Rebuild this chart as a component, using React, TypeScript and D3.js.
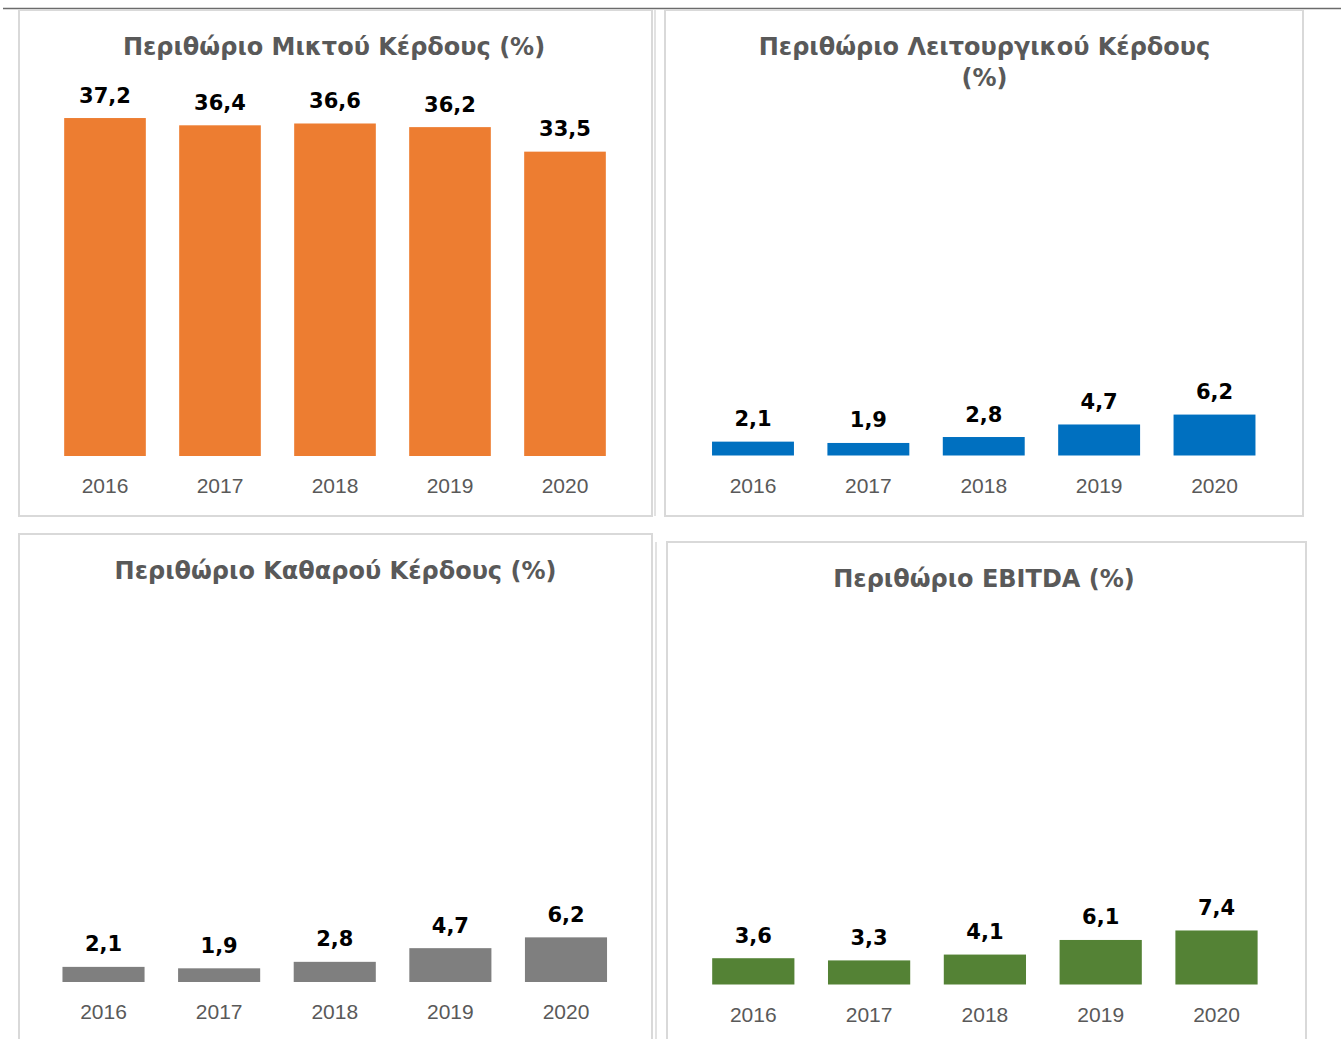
import React, {useEffect, useRef} from "react";
import * as d3 from "d3";

// years on the x axis
const years = ["2016", "2017", "2018", "2019", "2020"];

// margins in %
const grossMargin = [37.2, 36.4, 36.6, 36.2, 33.5];
const operatingMargin = [2.1, 1.9, 2.8, 4.7, 6.2];
const netMargin = [2.1, 1.9, 2.8, 4.7, 6.2];
const ebitdaMargin = [3.6, 3.3, 4.1, 6.1, 7.4];

const titleGross = ["Περιθώριο Μικτού Κέρδους (%)"];
const titleOperating = ["Περιθώριο Λειτουργικού Κέρδους", "(%)"];
const titleNet = ["Περιθώριο Καθαρού Κέρδους (%)"];
const titleEbitda = ["Περιθώριο EBITDA (%)"];

const W = 1341;
const H = 1039;

// greek style numbers: 37,2
const locale = d3.formatLocale({decimal: ",", thousands: ".", grouping: [3], currency: ["", "€"]});
const fmt = locale.format(".1f");

const panels = [
    {
        values: grossMargin, title: titleGross, color: "#ED7D31",
        box: [19, 10, 633, 506], extraLine: null,
        xRange: [47.5, 622.5], yBase: 456, yMax: 40, yTop: 92.6,
        titleX: 334, titleY: 55,
    },
    {
        values: operatingMargin, title: titleOperating, color: "#0070C0",
        box: [665, 10, 638, 506], extraLine: 655,
        xRange: [695.3, 1272.2], yBase: 455.5, yMax: 50, yTop: 125.5,
        titleX: 984.5, titleY: 55,
    },
    {
        values: netMargin, title: titleNet, color: "#7F7F7F",
        box: [19, 534, 633, 530], extraLine: null,
        xRange: [45.7, 623.8], yBase: 982, yMax: 50, yTop: 622,
        titleX: 335.5, titleY: 579,
    },
    {
        values: ebitdaMargin, title: titleEbitda, color: "#548235",
        box: [667, 542, 639, 530], extraLine: 656,
        xRange: [695.4, 1274.4], yBase: 984.5, yMax: 50, yTop: 619.5,
        titleX: 984, titleY: 587,
    },
];

const App = () => {
    const svgRef = useRef(null);

    useEffect(() => {
        document.body.style.margin = "0";
        const svg = d3.select(svgRef.current);
        svg.selectAll("*").remove();

        svg.append("rect").attr("width", W).attr("height", H).attr("fill", "#fff");

        // dark rule along the top
        svg.append("line")
            .attr("x1", 3).attr("x2", W)
            .attr("y1", 8.5).attr("y2", 8.5)
            .attr("stroke", "#6b6b6b")
            .attr("stroke-width", 1.5);

        panels.forEach((p) => {
            const g = svg.append("g");
            const [bx, by, bw, bh] = p.box;

            if (p.extraLine !== null) {
                g.append("line")
                    .attr("x1", p.extraLine).attr("x2", p.extraLine)
                    .attr("y1", by).attr("y2", Math.min(by + bh, H))
                    .attr("stroke", "#d9d9d9").attr("stroke-width", 1.5);
            }

            g.append("rect")
                .attr("x", bx).attr("y", by)
                .attr("width", bw).attr("height", bh)
                .attr("fill", "#fff")
                .attr("stroke", "#d9d9d9")
                .attr("stroke-width", 2);

            const x = d3.scaleBand<string>()
                .domain(years)
                .range(p.xRange as [number, number])
                .paddingInner(0.29)
                .paddingOuter(0.145);

            const y = d3.scaleLinear()
                .domain([0, p.yMax])
                .range([p.yBase, p.yTop]);

            // title
            const t = g.append("text")
                .attr("x", p.titleX)
                .attr("y", p.titleY)
                .attr("text-anchor", "middle")
                .attr("font-family", "'DejaVu Sans', sans-serif")
                .attr("font-weight", "bold")
                .attr("font-size", 24)
                .attr("fill", "#595959");
            p.title.forEach((line, i) => {
                t.append("tspan")
                    .attr("x", p.titleX)
                    .attr("dy", i === 0 ? 0 : 31)
                    .text(line);
            });

            // bars
            g.selectAll(".bar")
                .data(p.values)
                .join("rect")
                .attr("class", "bar")
                .attr("x", (d, i) => x(years[i]) as number)
                .attr("width", x.bandwidth())
                .attr("y", (d) => y(d))
                .attr("height", (d) => y(0) - y(d))
                .attr("fill", p.color);

            // value labels
            g.selectAll(".val")
                .data(p.values)
                .join("text")
                .attr("class", "val")
                .attr("x", (d, i) => (x(years[i]) as number) + x.bandwidth() / 2)
                .attr("y", (d) => y(d) - 15.5)
                .attr("text-anchor", "middle")
                .attr("font-family", "'DejaVu Sans', sans-serif")
                .attr("font-weight", "bold")
                .attr("font-size", 21)
                .attr("fill", "#000")
                .text((d) => fmt(d));

            // category axis, no line, no ticks
            const xAxis = d3.axisBottom(x).tickSize(0).tickPadding(0);
            const ax = g.append("g")
                .attr("transform", `translate(0,${p.yBase})`)
                .call(xAxis);
            ax.select(".domain").remove();
            ax.selectAll("text")
                .attr("dy", null)
                .attr("y", 37)
                .attr("font-family", "'Liberation Sans', Arial, sans-serif")
                .attr("font-size", 21)
                .attr("fill", "#595959");
        });
    }, []);

    return (
        <svg ref={svgRef} width={W} height={H} style={{display: "block"}}/>
    );
};

export default App;
